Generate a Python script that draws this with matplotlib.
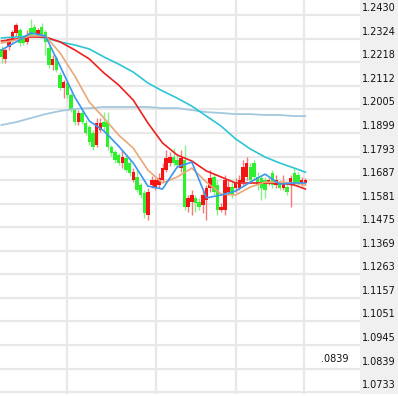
import matplotlib
matplotlib.use('Agg')
import matplotlib.pyplot as plt
from matplotlib.patches import Rectangle
from matplotlib.transforms import ScaledTranslation

# ---- candle data (price) ----
opens = [1.2277, 1.2232, 1.2286, 1.2318, 1.2349, 1.2363, 1.2327, 1.2309, 1.2372, 1.2376,
         1.2340, 1.2376, 1.2354, 1.2282, 1.2205, 1.2236, 1.2160, 1.2101, 1.2124, 1.2070,
         1.2002, 1.1948, 1.1989, 1.1944, 1.1926, 1.1899, 1.1845, 1.1912, 1.1948, 1.1948,
         1.1836, 1.1813, 1.1800, 1.1764, 1.1786, 1.1764, 1.1687, 1.1701, 1.1665, 1.1629,
         1.1530, 1.1665, 1.1656, 1.1665, 1.1687, 1.1732, 1.1764, 1.1791, 1.1777, 1.1741,
         1.1777, 1.1566, 1.1588, 1.1606, 1.1588, 1.1575, 1.1597, 1.1651, 1.1701, 1.1665,
         1.1552, 1.1552, 1.1633, 1.1656, 1.1651, 1.1651, 1.1678, 1.1701, 1.1746, 1.1764,
         1.1701, 1.1696, 1.1687, 1.1674, 1.1719, 1.1665, 1.1674, 1.1651, 1.1656, 1.1674,
         1.1719, 1.1710, 1.1674, 1.1674]
closes = [1.2241, 1.2273, 1.2322, 1.2354, 1.2385, 1.2304, 1.2304, 1.2340, 1.2340, 1.2345,
          1.2363, 1.2340, 1.2309, 1.2205, 1.2232, 1.2182, 1.2101, 1.2128, 1.2070, 1.2002,
          1.1948, 1.1989, 1.1948, 1.1899, 1.1858, 1.1836, 1.1944, 1.1944, 1.1926, 1.1836,
          1.1809, 1.1777, 1.1764, 1.1791, 1.1732, 1.1719, 1.1723, 1.1642, 1.1620, 1.1539,
          1.1633, 1.1687, 1.1687, 1.1696, 1.1741, 1.1786, 1.1791, 1.1764, 1.1755, 1.1786,
          1.1566, 1.1606, 1.1620, 1.1584, 1.1566, 1.1620, 1.1651, 1.1696, 1.1633, 1.1552,
          1.1566, 1.1687, 1.1656, 1.1620, 1.1674, 1.1687, 1.1746, 1.1764, 1.1687, 1.1701,
          1.1665, 1.1651, 1.1642, 1.1687, 1.1665, 1.1687, 1.1651, 1.1678, 1.1633, 1.1696,
          1.1674, 1.1678, 1.1687, 1.1687]
highs = [1.2291, 1.2282, 1.2331, 1.2363, 1.2394, 1.2372, 1.2336, 1.2363, 1.2412, 1.2390,
         1.2372, 1.2394, 1.2363, 1.2295, 1.2250, 1.2245, 1.2173, 1.2138, 1.2138, 1.2079,
         1.2011, 1.2002, 1.2002, 1.1957, 1.1935, 1.1912, 1.1966, 1.1966, 1.1993, 1.1993,
         1.1845, 1.1822, 1.1809, 1.1822, 1.1800, 1.1777, 1.1741, 1.1732, 1.1674, 1.1642,
         1.1651, 1.1705, 1.1696, 1.1719, 1.1764, 1.1822, 1.1813, 1.1831, 1.1800, 1.1822,
         1.1845, 1.1620, 1.1642, 1.1620, 1.1606, 1.1642, 1.1665, 1.1732, 1.1719, 1.1687,
         1.1584, 1.1710, 1.1687, 1.1687, 1.1696, 1.1710, 1.1777, 1.1791, 1.1764, 1.1777,
         1.1723, 1.1710, 1.1701, 1.1696, 1.1732, 1.1710, 1.1687, 1.1710, 1.1674, 1.1710,
         1.1741, 1.1723, 1.1701, 1.1696]
lows = [1.2214, 1.2214, 1.2273, 1.2309, 1.2336, 1.2291, 1.2295, 1.2300, 1.2331, 1.2336,
        1.2331, 1.2331, 1.2250, 1.2191, 1.2182, 1.2173, 1.2092, 1.2056, 1.2056, 1.1993,
        1.1935, 1.1935, 1.1939, 1.1890, 1.1845, 1.1822, 1.1836, 1.1903, 1.1912, 1.1822,
        1.1795, 1.1764, 1.1755, 1.1741, 1.1723, 1.1705, 1.1678, 1.1633, 1.1606, 1.1516,
        1.1507, 1.1651, 1.1642, 1.1651, 1.1678, 1.1723, 1.1750, 1.1750, 1.1741, 1.1723,
        1.1552, 1.1543, 1.1530, 1.1543, 1.1552, 1.1539, 1.1507, 1.1633, 1.1620, 1.1530,
        1.1543, 1.1530, 1.1620, 1.1606, 1.1633, 1.1642, 1.1665, 1.1687, 1.1674, 1.1687,
        1.1642, 1.1597, 1.1606, 1.1665, 1.1651, 1.1651, 1.1642, 1.1642, 1.1620, 1.1566,
        1.1660, 1.1665, 1.1660, 1.1665]

# ---- moving-average lines (read at candle indices) ----
ma_idx = [0, 4, 8, 12, 16, 20, 24, 28, 32, 36, 40, 44, 48, 52, 56, 60, 64, 68, 72, 76, 80, 83]
ma5 = [1.2273, 1.2309, 1.2349, 1.2336, 1.2200, 1.2061, 1.1953, 1.1908, 1.1840, 1.1764, 1.1660,
       1.1647, 1.1746, 1.1768, 1.1607, 1.1620, 1.1638, 1.1678, 1.1714, 1.1669, 1.1674, 1.1674]
ma10 = [1.2304, 1.2318, 1.2336, 1.2336, 1.2259, 1.2156, 1.2038, 1.1966, 1.1890, 1.1831, 1.1732,
        1.1674, 1.1701, 1.1741, 1.1678, 1.1624, 1.1620, 1.1656, 1.1678, 1.1678, 1.1674, 1.1665]
ma20 = [1.2313, 1.2322, 1.2331, 1.2331, 1.2309, 1.2273, 1.2232, 1.2169, 1.2115, 1.2047, 1.1944,
        1.1854, 1.1800, 1.1773, 1.1728, 1.1701, 1.1674, 1.1674, 1.1674, 1.1674, 1.1665, 1.1647]
ma60 = [1.2327, 1.2331, 1.2336, 1.2327, 1.2309, 1.2295, 1.2277, 1.2241, 1.2209, 1.2173, 1.2124,
        1.2088, 1.2056, 1.2020, 1.1975, 1.1930, 1.1872, 1.1827, 1.1791, 1.1764, 1.1741, 1.1723]
ma120 = [1.1935, 1.1948, 1.1966, 1.1984, 1.1998, 1.2007, 1.2011, 1.2016, 1.2016, 1.2016, 1.2016,
         1.2011, 1.2011, 1.2002, 1.1993, 1.1989, 1.1984, 1.1984, 1.1980, 1.1980, 1.1975, 1.1975]

y_ticks = [1.2430, 1.2324, 1.2218, 1.2112, 1.2005, 1.1899, 1.1793, 1.1687, 1.1581,
           1.1475, 1.1369, 1.1263, 1.1157, 1.1051, 1.0945, 1.0839, 1.0733]
y_tick_labels = ["1.2430", "1.2324", "1.2218", "1.2112", "1.2005", "1.1899", "1.1793",
                 "1.1687", "1.1581", "1.1475", "1.1369", "1.1263", "1.1157", "1.1051",
                 "1.0945", "1.0839", "1.0733"]
v_grid = [17.9, 42.2, 64.1, 82.7]
last_label = ".0839"

W, H = 398, 396
fig = plt.figure(figsize=(W / 100, H / 100), dpi=100)
fig.patch.set_facecolor('white')
fig.patches.append(Rectangle((360 / W, 2 / H), 38 / W, 394 / H, transform=fig.transFigure,
                             facecolor='#f0f0f0', edgecolor='none', zorder=-5))
ax = fig.add_axes([0, 2 / H, 360 / W, 394 / H])
ax.set_facecolor('white')
ax.set_xlim(-0.41, 97.95)
ax.set_ylim(1.07245, 1.24975)
for sp in ax.spines.values():
    sp.set_visible(False)
ax.set_xticks([])
ax.set_yticks([])

for v in y_ticks:
    ax.axhline(v, color='#e8e8e8', lw=1.6, zorder=0)
for xv in v_grid:
    ax.axvline(xv, color='#e8e8e8', lw=1.6, zorder=0)

up_body, up_wick = '#f51414', '#f57a7a'
dn_body, dn_wick = '#2ef02e', '#86f086'
for i, (o, c, h, l) in enumerate(zip(opens, closes, highs, lows)):
    up = c >= o
    ax.vlines(i, l, h, color=up_wick if up else dn_wick, lw=1.0, zorder=2)
    ax.bar(i, max(abs(c - o), 0.0003), bottom=min(o, c), width=0.95,
           color=up_body if up else dn_body, edgecolor='none', zorder=3)

ax.plot(ma_idx, ma120, color='#a4c8de', lw=1.3, zorder=4)
ax.plot(ma_idx, ma60, color='#2cc6d4', lw=1.2, zorder=4)
ax.plot(ma_idx, ma20, color='#ee2020', lw=1.2, zorder=4)
ax.plot(ma_idx, ma10, color='#e8a878', lw=1.2, zorder=4)
ax.plot(ma_idx, ma5, color='#3a96f0', lw=1.2, zorder=4)

off = ScaledTranslation(0, 7 / 100, fig.dpi_scale_trans)
for v, lab in zip(y_ticks, y_tick_labels):
    ax.text(362 / 360, v, lab, transform=ax.get_yaxis_transform() + off,
            ha='left', va='center', fontsize=7, color='#111111', family='DejaVu Sans',
            clip_on=False, zorder=10)

ax.text(321 / 360, (394 - 359) / 394, last_label, transform=ax.transAxes,
        ha='left', va='center', fontsize=7, color='#111111', family='DejaVu Sans')

fig.savefig('out.png', dpi=100)
